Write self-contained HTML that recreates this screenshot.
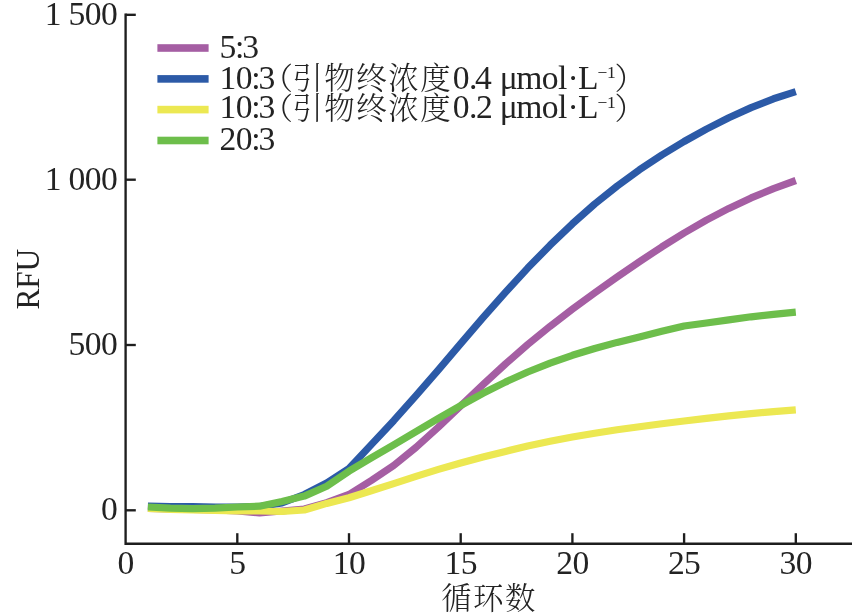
<!DOCTYPE html>
<html lang="zh"><head><meta charset="utf-8"><title>RFU</title>
<style>
html,body{margin:0;padding:0;background:#fff;}
body{width:864px;height:615px;overflow:hidden;}
svg{display:block;}
text{font-family:"Liberation Serif","Noto Serif CJK SC",serif;font-size:33.6px;fill:#232323;letter-spacing:-0.6px;}
.cjk{font-family:"Noto Serif CJK SC","Liberation Serif",serif;font-size:30.5px;letter-spacing:0;font-weight:300;}
.sup{font-size:17.5px;}
</style></head><body>
<svg width="864" height="615" viewBox="0 0 864 615">
<rect width="864" height="615" fill="#fff"/>
<polyline points="147.9,508.5 170.3,509.0 192.6,509.5 215.0,510.0 237.3,511.0 259.6,513.0 282.0,511.0 304.3,509.0 326.7,502.6 349.0,494.5 371.3,480.5 393.7,465.5 416.0,447.4 438.4,427.1 460.7,405.8 483.0,384.6 505.4,364.0 527.7,344.5 550.1,326.3 572.4,309.2 594.7,292.8 617.1,277.0 639.4,261.7 661.8,246.9 684.1,233.0 706.4,220.1 728.8,208.4 751.1,197.9 773.5,188.6 795.8,180.5" fill="none" stroke="#a55ea3" stroke-width="7.2" stroke-linejoin="round" stroke-linecap="butt"/>
<polyline points="147.9,506.0 170.3,506.5 192.6,506.5 215.0,507.0 237.3,507.0 259.6,506.5 282.0,503.0 304.3,494.5 326.7,483.0 349.0,468.5 371.3,444.6 393.7,420.7 416.0,395.7 438.4,369.8 460.7,343.6 483.0,317.6 505.4,292.3 527.7,268.1 550.1,245.2 572.4,223.8 594.7,204.0 617.1,186.1 639.4,169.8 661.8,155.0 684.1,141.5 706.4,129.1 728.8,117.7 751.1,107.6 773.5,98.8 795.8,91.6" fill="none" stroke="#2c5aa7" stroke-width="7.2" stroke-linejoin="round" stroke-linecap="butt"/>
<polyline points="147.9,508.5 170.3,509.5 192.6,510.0 215.0,510.5 237.3,511.0 259.6,511.0 282.0,511.5 304.3,510.0 326.7,503.4 349.0,497.7 371.3,490.8 393.7,483.6 416.0,476.3 438.4,469.4 460.7,463.0 483.0,457.0 505.4,451.4 527.7,446.1 550.1,441.3 572.4,437.0 594.7,433.2 617.1,429.8 639.4,426.7 661.8,423.8 684.1,421.0 706.4,418.4 728.8,415.9 751.1,413.6 773.5,411.6 795.8,409.9" fill="none" stroke="#ece852" stroke-width="7.2" stroke-linejoin="round" stroke-linecap="butt"/>
<polyline points="147.9,507.0 170.3,508.1 192.6,508.6 215.0,508.1 237.3,507.0 259.6,506.2 282.0,501.4 304.3,496.1 326.7,486.3 349.0,471.2 371.3,457.9 393.7,444.8 416.0,431.6 438.4,418.4 460.7,405.5 483.0,393.3 505.4,382.1 527.7,372.0 550.1,363.1 572.4,355.3 594.7,348.5 617.1,342.4 639.4,337.0 661.8,331.3 684.1,326.0 706.4,323.0 728.8,319.9 751.1,316.8 773.5,314.3 795.8,312.2" fill="none" stroke="#6dbe4b" stroke-width="7.2" stroke-linejoin="round" stroke-linecap="butt"/>
<g stroke="#1e1e1e" stroke-width="2.35" fill="none" stroke-linecap="butt">
<path d="M125.6 13.6 V543.7 H852"/>
<path d="M125.6 14.8 H135.8"/>
<path d="M125.6 179.7 H135.8"/>
<path d="M125.6 345 H135.8"/>
<path d="M125.6 510.3 H135.8"/>
<path d="M237.3 543.7 V533.2"/>
<path d="M349.0 543.7 V533.2"/>
<path d="M460.7 543.7 V533.2"/>
<path d="M572.4 543.7 V533.2"/>
<path d="M684.1 543.7 V533.2"/>
<path d="M795.8 543.7 V533.2"/>
</g>
<text x="117.2" y="24.9" text-anchor="end">1 500</text>
<text x="117.2" y="189.8" text-anchor="end">1 000</text>
<text x="117.2" y="355.1" text-anchor="end">500</text>
<text x="117.2" y="520.4" text-anchor="end">0</text>
<text x="125.6" y="573.8" text-anchor="middle">0</text>
<text x="237.3" y="573.8" text-anchor="middle">5</text>
<text x="349.0" y="573.8" text-anchor="middle">10</text>
<text x="460.7" y="573.8" text-anchor="middle">15</text>
<text x="572.4" y="573.8" text-anchor="middle">20</text>
<text x="684.1" y="573.8" text-anchor="middle">25</text>
<text x="795.8" y="573.8" text-anchor="middle">30</text>
<text transform="translate(38.5 279.3) rotate(-90) scale(0.935 1)" text-anchor="middle" style="letter-spacing:-0.3px">RFU</text>
<text class="cjk" x="441.35 473.05 504.95" y="609.3">循环数</text>
<rect x="157.4" y="44.2" width="51.2" height="7.6" fill="#a55ea3"/>
<rect x="157.4" y="75.1" width="51.2" height="7.6" fill="#2c5aa7"/>
<rect x="157.4" y="105.8" width="51.2" height="7.6" fill="#ece852"/>
<rect x="157.4" y="136.7" width="51.2" height="7.6" fill="#6dbe4b"/>
<text x="219.5" y="58">5<tspan dx="-0.6">:</tspan><tspan dx="-1.6">3</tspan></text>
<text x="219.5" y="88.6">10<tspan dx="-0.6">:</tspan><tspan dx="-1.6">3</tspan><tspan class="cjk" x="262.5" dy="0.3">（</tspan><tspan class="cjk" x="292.25 324.25 356.25 388.25 420.25">引物终浓度</tspan><tspan x="452.8" dy="-0.3">0.</tspan><tspan dx="-1.8">4</tspan><tspan x="491.9"> </tspan><tspan x="499.7">μ</tspan><tspan dx="-0.9">mol</tspan><tspan x="567.6">·</tspan><tspan x="578">L</tspan><tspan class="sup" x="597.4" dy="-10.2">−</tspan><tspan class="sup" dx="0.2">1</tspan><tspan class="cjk" x="614.5" dy="10.5">）</tspan></text>
<text x="219.5" y="118.4">10<tspan dx="-0.6">:</tspan><tspan dx="-1.6">3</tspan><tspan class="cjk" x="262.5" dy="0.3">（</tspan><tspan class="cjk" x="292.25 324.25 356.25 388.25 420.25">引物终浓度</tspan><tspan x="452.8" dy="-0.3">0.</tspan><tspan dx="-0.8">2</tspan><tspan x="491.9"> </tspan><tspan x="499.7">μ</tspan><tspan dx="-0.9">mol</tspan><tspan x="567.6">·</tspan><tspan x="578">L</tspan><tspan class="sup" x="597.4" dy="-10.2">−</tspan><tspan class="sup" dx="0.2">1</tspan><tspan class="cjk" x="614.5" dy="10.5">）</tspan></text>
<text x="219.5" y="150.3">20<tspan dx="-0.6">:</tspan><tspan dx="-1.6">3</tspan></text>
</svg></body></html>
